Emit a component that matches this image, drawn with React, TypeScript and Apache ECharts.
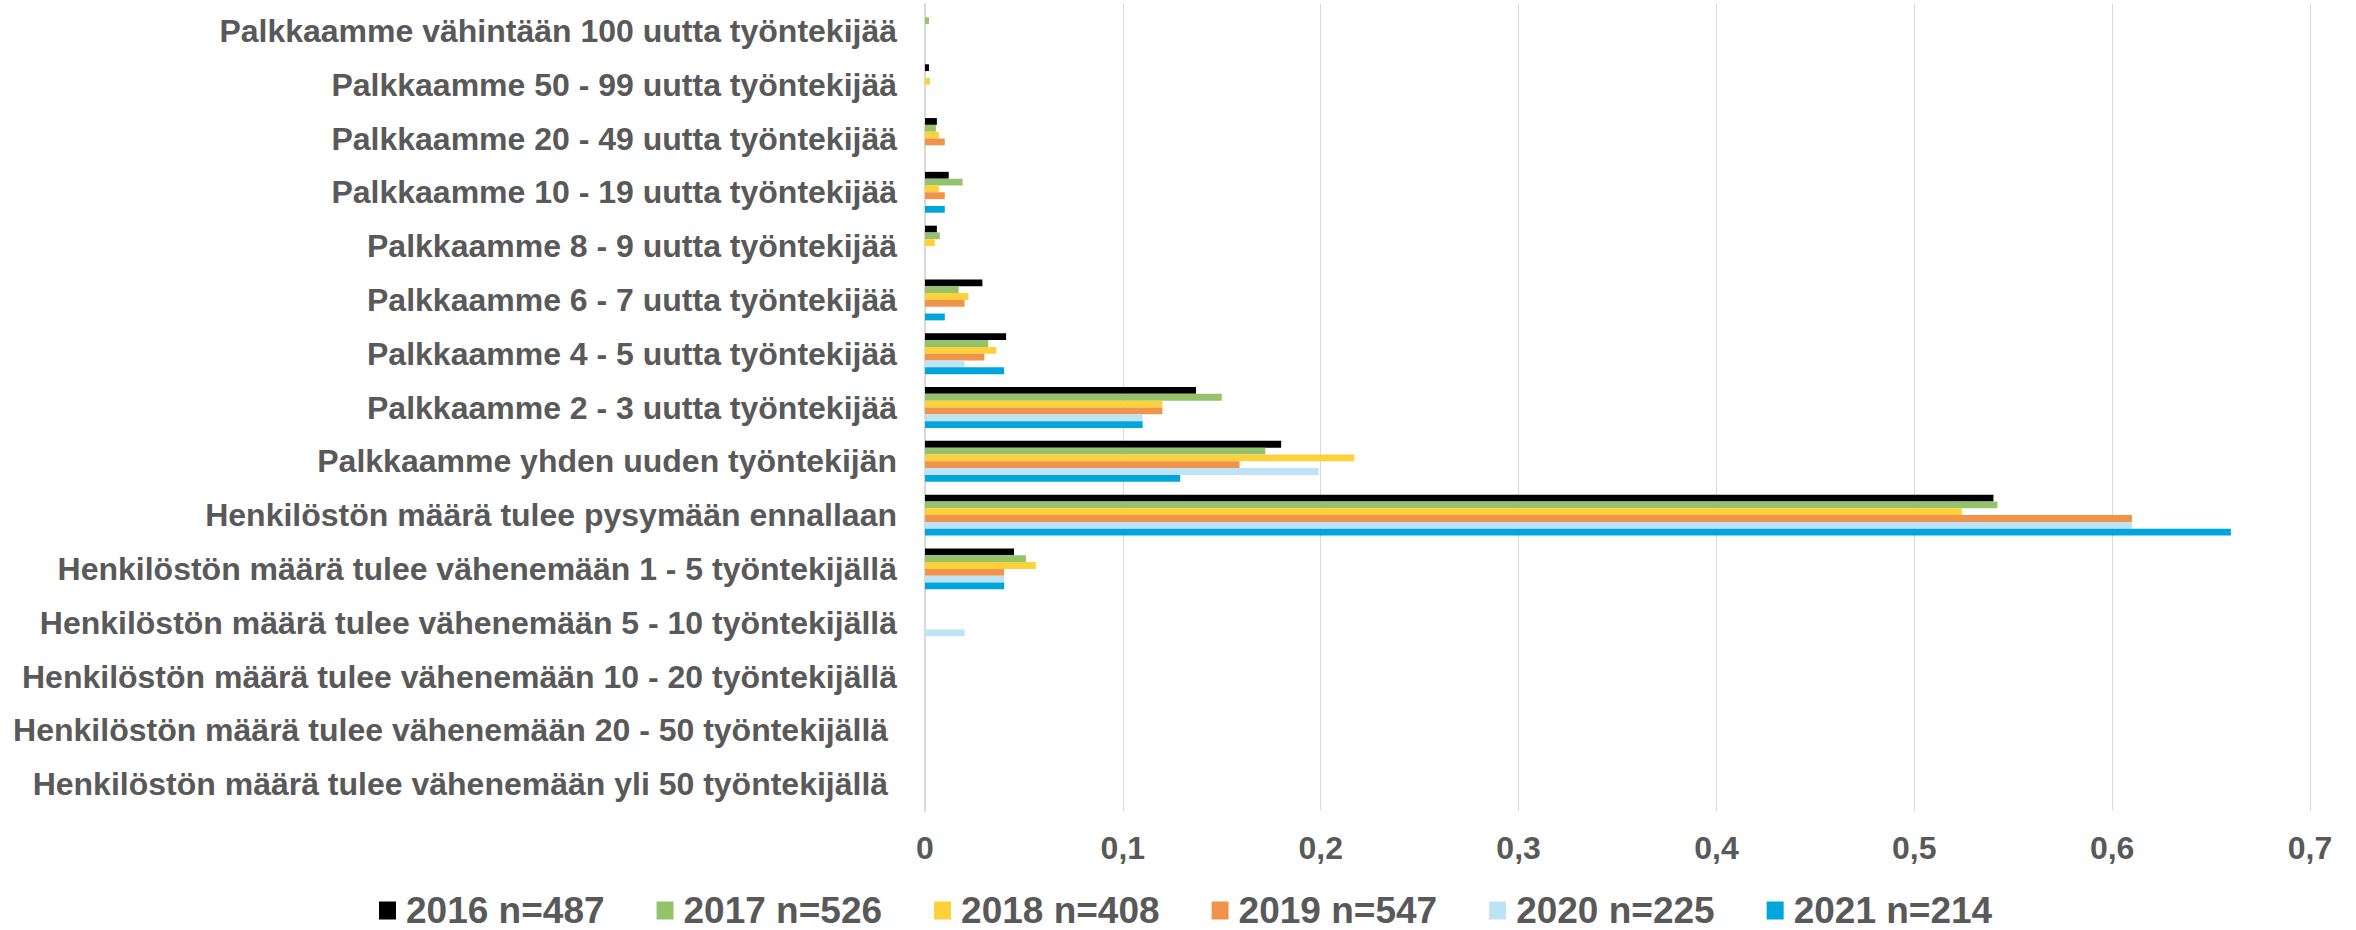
import React, { useEffect, useRef } from "react";
import * as echarts from "echarts";

const categories = [
  "Palkkaamme vähintään 100 uutta työntekijää",
  "Palkkaamme 50 - 99 uutta työntekijää",
  "Palkkaamme 20 - 49 uutta työntekijää",
  "Palkkaamme 10 - 19 uutta työntekijää",
  "Palkkaamme 8 - 9 uutta työntekijää",
  "Palkkaamme 6 - 7 uutta työntekijää",
  "Palkkaamme 4 - 5 uutta työntekijää",
  "Palkkaamme 2 - 3 uutta työntekijää",
  "Palkkaamme yhden uuden työntekijän",
  "Henkilöstön määrä tulee pysymään ennallaan",
  "Henkilöstön määrä tulee vähenemään 1 - 5 työntekijällä",
  "Henkilöstön määrä tulee vähenemään 5 - 10 työntekijällä",
  "Henkilöstön määrä tulee vähenemään 10 - 20 työntekijällä",
  "Henkilöstön määrä tulee vähenemään 20 - 50 työntekijällä ",
  "Henkilöstön määrä tulee vähenemään yli 50 työntekijällä ",
];

const seriesNames = ["2016 n=487", "2017 n=526", "2018 n=408", "2019 n=547", "2020 n=225", "2021 n=214"];

const v2016 = [0, 0.002, 0.006, 0.012, 0.006, 0.029, 0.041, 0.137, 0.18, 0.54, 0.045, 0, 0, 0, 0];
const v2017 = [0.002, 0, 0.0055, 0.019, 0.0075, 0.017, 0.032, 0.15, 0.172, 0.542, 0.051, 0, 0, 0, 0];
const v2018 = [0, 0.0025, 0.007, 0.007, 0.005, 0.022, 0.036, 0.12, 0.217, 0.524, 0.056, 0, 0, 0, 0];
const v2019 = [0, 0, 0.01, 0.01, 0, 0.02, 0.03, 0.12, 0.159, 0.61, 0.04, 0, 0, 0, 0];
const v2020 = [0, 0, 0, 0, 0, 0, 0.02, 0.11, 0.199, 0.61, 0.04, 0.02, 0, 0, 0];
const v2021 = [0, 0, 0, 0.01, 0, 0.01, 0.04, 0.11, 0.129, 0.66, 0.04, 0, 0, 0, 0];

const seriesValues = [v2016, v2017, v2018, v2019, v2020, v2021];
const colors = ["#000000", "#95C36B", "#FDD13A", "#F0934B", "#BEE3F5", "#00A5DB"];

const FONT = "'Liberation Sans', Arial, sans-serif";
const LABEL_COLOR = "#595959";

export default function App() {
  const ref = useRef<HTMLDivElement>(null);
  useEffect(() => {
    document.body.style.margin = "0";
    const chart = echarts.init(ref.current!, null, { renderer: "svg" });
    chart.setOption({
      animation: false,
      backgroundColor: "#ffffff",
      color: colors,
      grid: { left: 925, right: 46, top: 4, bottom: 119, containLabel: false },
      legend: {
        left: 374,
        top: 887,
        icon: "rect",
        itemWidth: 17,
        itemHeight: 18,
        itemGap: 52,
        textStyle: {
          fontSize: 37,
          lineHeight: 37,
          fontWeight: "bold",
          color: LABEL_COLOR,
          fontFamily: FONT,
          padding: [0, 0, 0, 5],
        },
        data: seriesNames,
      },
      xAxis: {
        type: "value",
        min: 0,
        max: 0.7,
        interval: 0.1,
        axisLine: { show: false },
        axisTick: { show: false },
        splitLine: { show: true, lineStyle: { color: "#D9D9D9", width: 1 } },
        axisLabel: {
          fontSize: 32,
          fontWeight: "bold",
          color: LABEL_COLOR,
          fontFamily: FONT,
          margin: 21,
          formatter: (v: number) => String(Math.round(v * 10) / 10).replace(".", ","),
        },
      },
      yAxis: {
        type: "category",
        inverse: true,
        data: categories,
        axisLine: { show: true, lineStyle: { color: "#D9D9D9", width: 2 } },
        axisTick: { show: false },
        splitLine: { show: false },
        axisLabel: {
          fontSize: 32,
          fontWeight: "bold",
          color: LABEL_COLOR,
          fontFamily: FONT,
          margin: 28,
          interval: 0,
        },
      },
      series: seriesNames.map((name, i) => ({
        name,
        type: "bar",
        data: seriesValues[i],
        barGap: "0%",
        barCategoryGap: "24%",
        itemStyle: { color: colors[i] },
      })),
    });
    return () => chart.dispose();
  }, []);
  return <div ref={ref} style={{ width: 2356, height: 930 }} />;
}
